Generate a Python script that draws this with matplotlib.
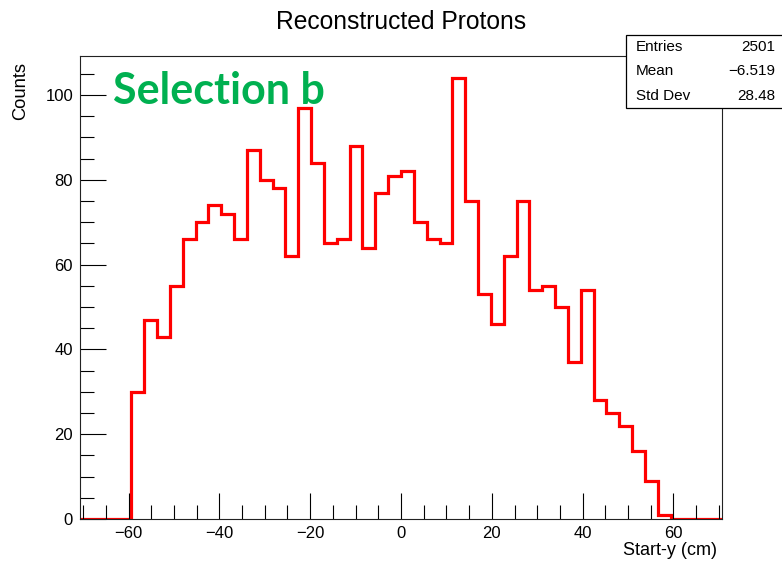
import matplotlib
matplotlib.use("Agg")
import matplotlib.pyplot as plt
import numpy as np
from matplotlib.patches import Rectangle
from matplotlib.ticker import MultipleLocator

plt.rcParams['font.family'] = ['Liberation Sans', 'DejaVu Sans']

# start-y histogram, 50 bins over +-70.7 cm
x_lo, x_hi, n_bins = -70.7, 70.7, 50
counts = [0, 0, 0, 0, 30, 47, 43, 55, 66, 70,
          74, 72, 66, 87, 80, 78, 62, 97, 84, 65,
          66, 88, 64, 77, 81, 82, 70, 66, 65, 104,
          75, 53, 46, 62, 75, 54, 55, 50, 37, 54,
          28, 25, 22, 16, 9, 1, 0, 0, 0, 0]
stat_names = ["Entries", "Mean", "Std Dev"]
stat_values = ["2501", "\u22126.519", "28.48"]

edges = np.linspace(x_lo, x_hi, n_bins + 1)

fig = plt.figure(figsize=(7.82, 5.63), dpi=100)
ax = fig.add_axes([0.1023, 0.0782, 0.8210, 0.8223])

ax.stairs(counts, edges, color='red', lw=2.3, baseline=None)
ax.set_xlim(x_lo, x_hi)
ax.set_ylim(0, max(counts) * 1.05)

ax.xaxis.set_major_locator(MultipleLocator(20))
ax.xaxis.set_minor_locator(MultipleLocator(5))
ax.yaxis.set_major_locator(MultipleLocator(20))
ax.yaxis.set_minor_locator(MultipleLocator(5))
ax.tick_params(which='both', direction='in', labelsize=12, width=0.8,
               top=False, right=False)
ax.tick_params(which='major', length=19, pad=5)
ax.tick_params(which='minor', length=10)
for s in ax.spines.values():
    s.set_linewidth(0.8)
    s.set_color('#222222')

fig.text(0.5134, 1 - 29.3 / 563, "Reconstructed Protons", ha='center',
         va='baseline', fontsize=17.7)
fig.text(0.027, 1 - 62 / 563, "Counts", rotation=90, ha='center', va='top',
         fontsize=13.2)
fig.text(717 / 782, 1 - 555 / 563, "Start-y (cm)", ha='right', va='baseline',
         fontsize=13)

fig.text(113 / 782, 1 - 104 / 563, "Selection b", color='#00B050',
         fontsize=31, fontweight='bold', family=['Lato', 'DejaVu Sans'],
         va='baseline')

# stats box
bx0, by0, bx1, by1 = 626 / 782, 1 - 108 / 563, 1.01, 1 - 35 / 563
fig.patches.append(Rectangle((bx0, by0), bx1 - bx0, by1 - by0,
                             transform=fig.transFigure, facecolor='white',
                             edgecolor='black', lw=0.9, zorder=5))
row_h = (by1 - by0) / 3
for i, (name, val) in enumerate(zip(stat_names, stat_values)):
    yc = by1 - row_h * (i + 0.5)
    fig.text(636 / 782, yc, name, ha='left', va='center', fontsize=11, zorder=6)
    fig.text(775 / 782, yc, val, ha='right', va='center', fontsize=11, zorder=6)

fig.savefig("out.png", dpi=100)
